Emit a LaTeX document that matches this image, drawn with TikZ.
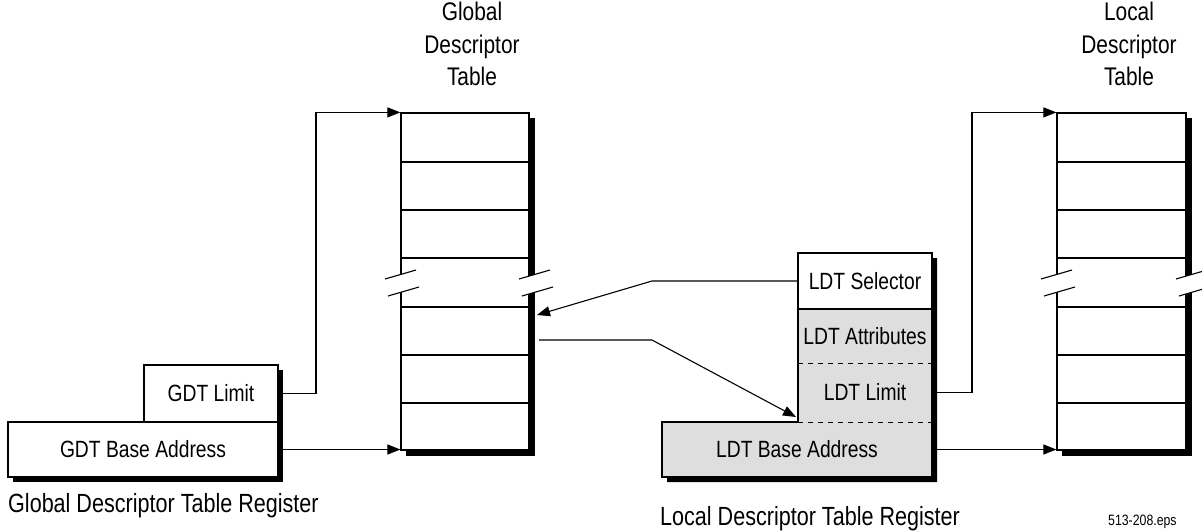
\documentclass[tikz,border=0pt]{standalone}
\usepackage{fontspec}
\setmainfont{Liberation Sans}[FakeStretch=0.82]
\usetikzlibrary{arrows.meta}
\begin{document}
\begin{tikzpicture}[x=1pt,y=-1pt,
  lbl/.style={font=\fontsize{23.5}{32.5}\selectfont, inner sep=0pt},
  biglbl/.style={font=\fontsize{25.5}{32.5}\selectfont, inner sep=0pt},
  reglbl/.style={font=\fontsize{26.3}{32.5}\selectfont, inner sep=0pt},
  box/.style={lbl, draw, line width=1.2pt, fill=white},
  tbl/.style={draw, line width=1.2pt, fill=white, inner sep=0pt, minimum height=337pt},
  rowline/.style={line width=1.1pt},
  conn/.style={line width=1.1pt},
  arr/.style={conn, -{Triangle[length=13pt,width=10pt]}},
  regfill/.style={fill=black!13},
  dashline/.style={line width=1pt, dash pattern=on 5pt off 5pt},
  brk/.pic={
    \fill[white] (-15,9) -- (15,0) -- (18,17) -- (-12,26) -- cycle;
    \draw[line width=1.1pt] (-16,9) -- (15,0) (-13,26) -- (18,17);
  }]
\useasboundingbox (0,0) rectangle (1202,531);

% ---------- Global Descriptor Table ----------
\fill (406,118) rectangle (535,456);
\node[tbl, minimum width=128pt] (gdt) at (465,281.5) {};
\foreach \y in {162,210,258,307,355,403}
  \draw[rowline] (401,\y) -- (529,\y);
\pic at (401,270) {brk};
\pic at (535,270) {brk};
\node[biglbl, align=center, anchor=north] (gdttitle) at (472,2) {Global\\Descriptor\\Table};

% ---------- Local Descriptor Table ----------
\fill (1062,118) rectangle (1192,456);
\node[tbl, minimum width=129pt] (ldt) at (1121.5,281.5) {};
\foreach \y in {162,210,258,307,355,403}
  \draw[rowline] (1057,\y) -- (1186,\y);
\pic at (1057,270) {brk};
\pic at (1192,270) {brk};
\node[biglbl, align=center, anchor=north] (ldttitle) at (1129,2) {Local\\Descriptor\\Table};

% ---------- GDT register ----------
\fill (149,370) rectangle (283,427);
\fill (13,427) rectangle (283,482);
\node[box, minimum width=134pt, minimum height=57pt] (gdtlim) at (211,393.5) {GDT Limit};
\node[box, minimum width=270pt, minimum height=55pt] (gdtbase) at (143,449.5) {GDT Base Address};
\node[reglbl, anchor=base west] (gdtreg) at (8,512) {Global Descriptor Table Register};

% ---------- LDT register ----------
\fill (803,258) -- (937,258) -- (937,482) -- (667,482) -- (667,427) -- (803,427) -- cycle;
\filldraw[regfill, line width=1.2pt] (798,309) -- (932,309) -- (932,477) -- (662,477) -- (662,422) -- (798,422) -- cycle;
\node[box, minimum width=134pt, minimum height=56pt] (ldtsel) at (865,281) {LDT Selector};
\node[lbl, minimum width=134pt, minimum height=54pt] (ldtattr) at (865,336) {LDT Attributes};
\node[lbl, minimum width=134pt, minimum height=59pt] (ldtlim) at (865,392.5) {LDT Limit};
\node[lbl, minimum width=270pt, minimum height=55pt] (ldtbase) at (797,449.5) {LDT Base Address};
\draw[dashline] (ldtattr.south west) -- (ldtattr.south east);
\draw[dashline] (ldtlim.south west) -- (ldtlim.south east);
\node[reglbl, anchor=base west] (ldtreg) at (660,525) {Local Descriptor Table Register};
\node[font=\fontsize{15}{18}\selectfont, inner sep=0pt, anchor=base west] (fname) at (1108,525) {513-208.eps};

% ---------- connectors ----------
\coordinate (gbend) at (316,393.5);
\draw[arr] (gdtlim.east) -- (gbend) |- (gdt.north west);
\draw[arr] (gdtbase.east) -- (gdtbase.east -| gdt.west);

\coordinate (selbend) at (652,281);
\coordinate (gdtin) at (537,315);
\draw[arr] (ldtsel.west) -- (selbend) -- (gdtin);

\coordinate (gdtout) at (539,340);
\coordinate (ptrbend) at (652,340);
\coordinate (ldtin) at (796,417);
\draw[arr] (gdtout) -- (ptrbend) -- (ldtin);

\coordinate (lbend) at (972,392.5);
\draw[arr] (ldtlim.east) -- (lbend) |- (ldt.north west);
\draw[arr] (ldtbase.east) -- (ldtbase.east -| ldt.west);
\end{tikzpicture}
\end{document}
